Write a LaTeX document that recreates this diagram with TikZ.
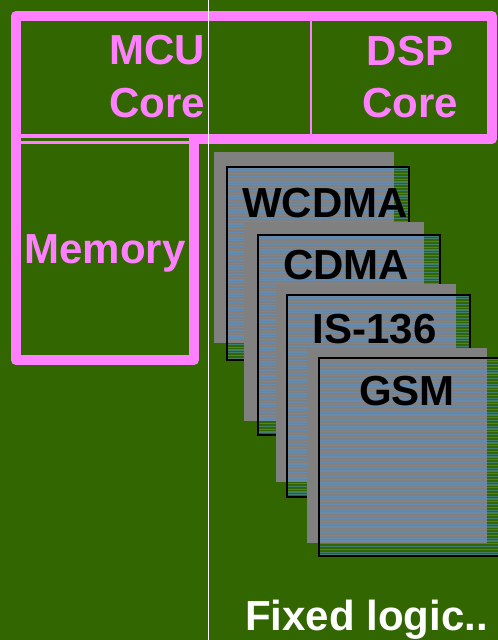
\documentclass[tikz,border=0pt]{standalone}
\usepackage{fontspec}
\setmainfont{Liberation Sans}
\definecolor{boardgreen}{RGB}{50,102,0}
\definecolor{blockpink}{RGB}{255,128,255}
\definecolor{cardgray}{RGB}{128,128,128}
\definecolor{stripeblue}{RGB}{80,150,220}
\begin{document}
\begin{tikzpicture}[x=1pt,y=-1pt,
  bigtext/.style={font=\fontsize{42}{53}\selectfont\bfseries, inner sep=0pt},
  pinkline/.style={draw=blockpink, line width=10pt, line join=round},
  cardback/.style={fill=cardgray},
  cardframe/.style={draw=black, line width=2pt},
  stripe/.style={stripeblue, line width=1.1pt, opacity=0.5}]
\useasboundingbox (0,0) rectangle (498,640);
\fill[boardgreen] (0,0) rectangle (498,640);

% processor blocks and memory outline
\draw[pinkline] (16,16) rectangle (492,139);
\draw[pinkline] (16,139) rectangle (194,360);
\draw[boardgreen, line width=3.5pt] (21,139.5) -- (189,139.5);
\draw[blockpink, line width=1.8pt] (311,21) -- (311,134);

\node[bigtext, blockpink, anchor=base east] (mcu) at (205,64) {MCU};
\node[bigtext, blockpink, anchor=base east] (mcucore) at (205,117) {Core};
\node[bigtext, blockpink, anchor=base] (dsp) at (410,65) {DSP};
\node[bigtext, blockpink, anchor=base] (dspcore) at (410,117) {Core};
\node[bigtext, blockpink, anchor=base] (memory) at (105,263) {Memory};

% divider
\draw[white, line width=1.2pt] (208.5,0) -- (208.5,640);

% stacked standard cards: grey back, striped framed sheet, label
\newcommand{\stdcard}[8]{%
  \fill[cardback] (#1,#2) rectangle (#3,#4);
  \begin{scope}
    \clip (#5,#6) rectangle (#7,#8);
    \foreach \k in {0,...,75} {
      \draw[stripe] (#5,{#6+1+\k*2.8}) -- (#7,{#6+1+\k*2.8});
    }
  \end{scope}
  \draw[cardframe] (#5,#6) rectangle (#7,#8);
}
\stdcard{214}{152}{394}{343}{227}{167}{409}{360}
\node[bigtext, black, anchor=base] (wcdma) at (325,217) {WCDMA};
\stdcard{244}{222}{424}{421}{258}{235}{440}{435}
\node[bigtext, black, anchor=base] (cdma) at (346,279) {CDMA};
\stdcard{276}{284}{456}{482}{287}{295}{470}{497}
\node[bigtext, black, anchor=base] (is136) at (374.5,343) {IS-136};
\stdcard{307}{348}{487}{543}{319}{358}{502}{556}
\node[bigtext, black, anchor=base] (gsm) at (407,405) {GSM};

\node[bigtext, white, anchor=base west] (fixed) at (245,630) {Fixed logic..};
\end{tikzpicture}
\end{document}
